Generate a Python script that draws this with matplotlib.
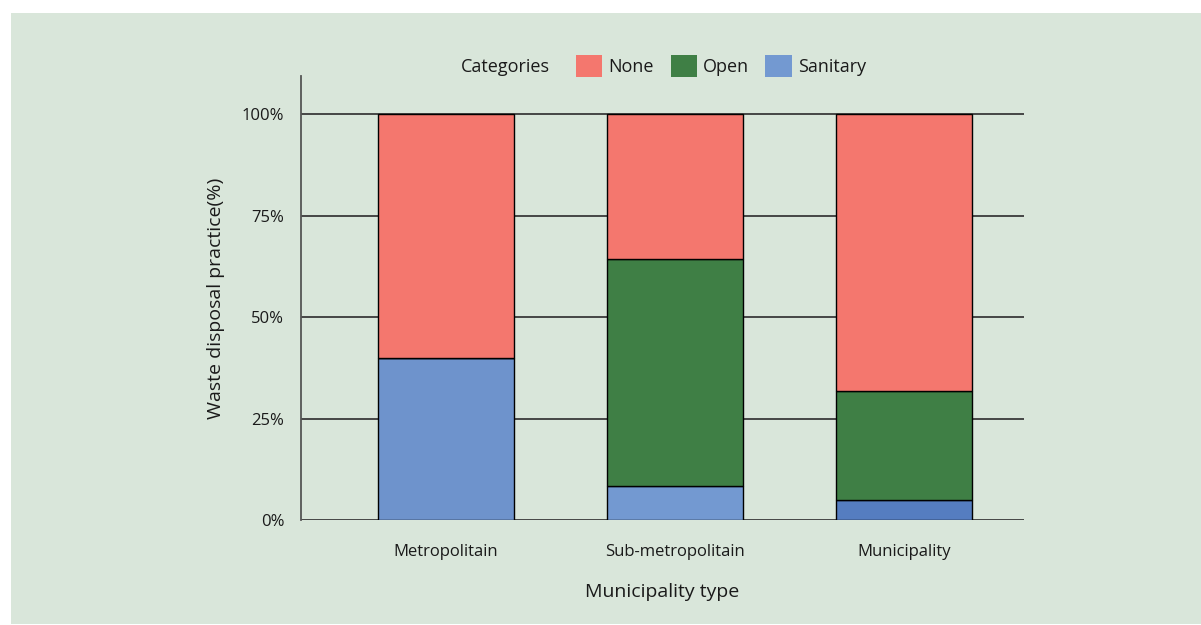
import matplotlib.pyplot as plt
from matplotlib.patches import Rectangle, Patch

plt.rcParams["font.family"] = ["Open Sans", "DejaVu Sans"]

# municipality types on the x-axis
types = ["Metropolitain", "Sub-metropolitain", "Municipality"]

# share of each disposal practice (%)
sanitary = [40.0, 8.3, 5.0]
open_dump = [0.0, 55.9, 26.8]
none = [60.0, 35.8, 68.2]

yticks = [0, 25, 50, 75, 100]
ytick_labels = ["0%", "25%", "50%", "75%", "100%"]

c_none = "#F4776E"
c_open = "#3F7F45"
c_sanitary = "#7399D1"
# the sanitary segments come in slightly different blues
sanitary_colors = ["#6E93CC", "#7399D1", "#557DC0"]
bg = "#D9E6DA"

fig = plt.figure(figsize=(12.01, 6.25), dpi=100, facecolor="white")

# green panel behind everything
fig.patches.append(
    Rectangle((11 / 1201, 0.0016), 1 - 11 / 1201, 1 - 13 / 625 - 0.0016,
              transform=fig.transFigure, facecolor=bg, edgecolor="none", zorder=-10)
)

ax = fig.add_axes([301 / 1201, 1 - 520 / 625, 723 / 1201, 444 / 625])
ax.set_facecolor("none")

x = list(range(len(types)))
width = 0.594
bottom_open = sanitary
bottom_none = [s + o for s, o in zip(sanitary, open_dump)]

ax.bar(x, sanitary, width, color=sanitary_colors, edgecolor="black", linewidth=1, zorder=3)
ax.bar(x, open_dump, width, bottom=bottom_open, color=c_open, edgecolor="black", linewidth=1, zorder=3)
ax.bar(x, none, width, bottom=bottom_none, color=c_none, edgecolor="black", linewidth=1, zorder=3)

ax.set_xlim(-0.633, 2.524)
ax.set_ylim(0, 109.4)

ax.set_yticks(yticks)
ax.set_yticklabels(ytick_labels)
ax.set_xticks(x)
ax.set_xticklabels(types)
ax.tick_params(axis="both", length=0, labelsize=12, colors="#1a1a1a")
ax.tick_params(axis="y", pad=12)
ax.tick_params(axis="x", pad=17)

ax.yaxis.grid(True, color="#3a3a3a", linewidth=1.3, zorder=1)
for s in ["top", "right", "bottom"]:
    ax.spines[s].set_visible(False)
ax.spines["left"].set_color("#555555")
ax.spines["left"].set_linewidth(1.3)

ax.set_xlabel("Municipality type", fontsize=14, labelpad=17, color="#1a1a1a")
ax.set_ylabel("Waste disposal practice(%)", fontsize=14, labelpad=12, color="#1a1a1a")

fig.text(461 / 1201, 1 - 67 / 625, "Categories", fontsize=13, va="center", ha="left", color="#1a1a1a")
handles = [
    Patch(facecolor=c_none, edgecolor="none", label="None"),
    Patch(facecolor=c_open, edgecolor="none", label="Open"),
    Patch(facecolor=c_sanitary, edgecolor="none", label="Sanitary"),
]
fig.legend(handles=handles, loc="center left", bbox_to_anchor=(560 / 1201, 1 - 66 / 625),
           ncol=3, frameon=False, fontsize=13, handlelength=1.45, handleheight=1.45,
           handletextpad=0.35, columnspacing=0.9, labelcolor="#1a1a1a")

fig.savefig("out.png", dpi=100, facecolor="white")
